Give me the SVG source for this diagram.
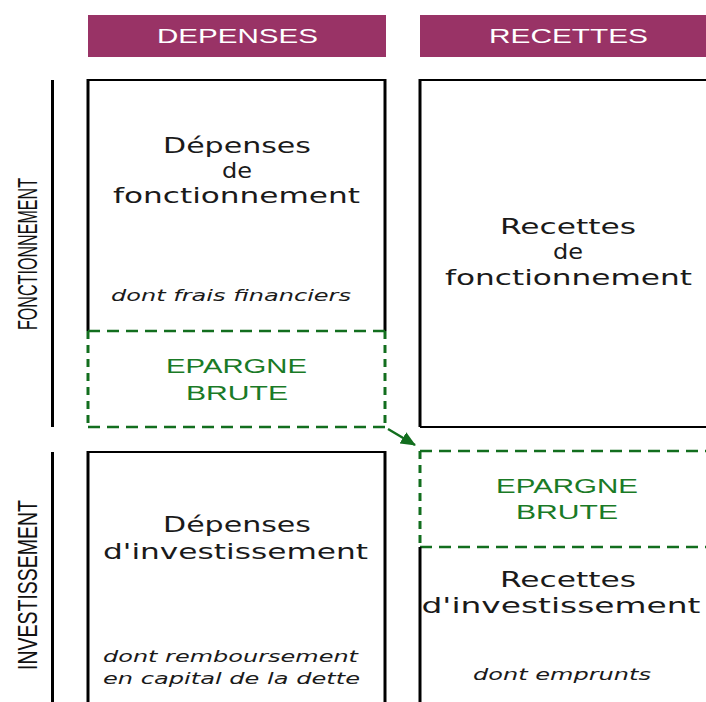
<svg xmlns="http://www.w3.org/2000/svg" width="706" height="702" viewBox="0 0 706 702">
<style>
.hdr{fill:#993366}
.htxt{font-family:"Liberation Sans",Arial,sans-serif;font-size:21px;fill:#ffffff;text-anchor:middle}
.body{font-family:"DejaVu Sans",Verdana,sans-serif;font-size:22px;fill:#1a1a1a;text-anchor:middle}
.ital{font-family:"DejaVu Sans",Verdana,sans-serif;font-size:15px;font-style:italic;fill:#1a1a1a;text-anchor:middle}
.eb{font-family:"Liberation Sans",Arial,sans-serif;font-size:20px;fill:#1a7a26;text-anchor:middle}
.side{font-family:"Liberation Sans",Arial,sans-serif;font-size:20px;fill:#111111;text-anchor:middle}
.box{fill:none;stroke:#000000;stroke-width:2}
.vline{fill:none;stroke:#000000;stroke-width:3}
.dh{fill:none;stroke:#126e1e;stroke-width:2.5;stroke-dasharray:12 7}
.dv{fill:none;stroke:#126e1e;stroke-width:3;stroke-dasharray:8 6}
</style>
<defs>
<marker id="ah" markerWidth="15" markerHeight="13" refX="14" refY="6.5" orient="auto" markerUnits="userSpaceOnUse" viewBox="0 0 15 13">
<path d="M0,0 L15,6.5 L0,13 Z" fill="#126e1e"/>
</marker>
</defs>
<rect width="706" height="702" fill="#ffffff"/>

<g id="header-depenses">
<rect class="hdr" x="88" y="15" width="298" height="42"/>
<text class="htxt" x="237.5" y="43" textLength="161" lengthAdjust="spacingAndGlyphs">DEPENSES</text>
</g>
<g id="header-recettes">
<rect class="hdr" x="420" y="15" width="286" height="42"/>
<text class="htxt" x="568.5" y="43" textLength="159" lengthAdjust="spacingAndGlyphs">RECETTES</text>
</g>

<g id="label-fonctionnement">
<line class="vline" x1="52.5" y1="80" x2="52.5" y2="427" stroke-width="4"/>
<text class="side" transform="translate(37,254) scale(1.4,1) rotate(-90)" textLength="152" lengthAdjust="spacingAndGlyphs">FONCTIONNEMENT</text>
</g>
<g id="label-investissement">
<line class="vline" x1="52.5" y1="452" x2="52.5" y2="702" stroke-width="4"/>
<text class="side" transform="translate(37,585) scale(1.4,1) rotate(-90)" textLength="170" lengthAdjust="spacingAndGlyphs">INVESTISSEMENT</text>
</g>

<g id="depenses-fonctionnement">
<line class="box" x1="88" y1="80" x2="385" y2="80"/>
<line class="vline" x1="88" y1="79" x2="88" y2="331"/>
<line class="vline" x1="385" y1="79" x2="385" y2="331"/>
<text class="body" x="237" y="153" textLength="148" lengthAdjust="spacingAndGlyphs">Dépenses</text>
<text class="body" x="237" y="178" textLength="30" lengthAdjust="spacingAndGlyphs">de</text>
<text class="body" x="236.5" y="203" textLength="247" lengthAdjust="spacingAndGlyphs">fonctionnement</text>
<text class="ital" x="231" y="301" textLength="240" lengthAdjust="spacingAndGlyphs">dont frais financiers</text>
</g>

<g id="epargne-brute-depenses">
<line class="dh" x1="88" y1="331" x2="385" y2="331"/>
<line class="dh" x1="88" y1="427" x2="385" y2="427"/>
<line class="dv" x1="88" y1="331" x2="88" y2="427"/>
<line class="dv" x1="385" y1="331" x2="385" y2="427"/>
<text class="eb" x="236.5" y="373" textLength="141" lengthAdjust="spacingAndGlyphs">EPARGNE</text>
<text class="eb" x="237" y="400" textLength="102" lengthAdjust="spacingAndGlyphs">BRUTE</text>
</g>

<g id="recettes-fonctionnement">
<line class="box" x1="708" y1="80" x2="420" y2="80"/>
<line class="vline" x1="420" y1="79" x2="420" y2="427"/>
<line class="box" x1="420" y1="427" x2="708" y2="427"/>
<text class="body" x="568" y="234" textLength="136" lengthAdjust="spacingAndGlyphs">Recettes</text>
<text class="body" x="568" y="259" textLength="30" lengthAdjust="spacingAndGlyphs">de</text>
<text class="body" x="568.5" y="285" textLength="247" lengthAdjust="spacingAndGlyphs">fonctionnement</text>
</g>

<g id="epargne-brute-recettes">
<line class="dh" x1="420" y1="451" x2="706" y2="451"/>
<line class="dh" x1="420" y1="547" x2="706" y2="547"/>
<line class="dv" x1="420" y1="451" x2="420" y2="547"/>
<text class="eb" x="567" y="493" textLength="142" lengthAdjust="spacingAndGlyphs">EPARGNE</text>
<text class="eb" x="567" y="519" textLength="102" lengthAdjust="spacingAndGlyphs">BRUTE</text>
</g>

<g id="depenses-investissement">
<line class="box" x1="88" y1="452" x2="385" y2="452"/>
<line class="vline" x1="88" y1="451" x2="88" y2="702"/>
<line class="vline" x1="385" y1="451" x2="385" y2="702"/>
<text class="body" x="237" y="532" textLength="148" lengthAdjust="spacingAndGlyphs">Dépenses</text>
<text class="body" x="235.5" y="559" textLength="265" lengthAdjust="spacingAndGlyphs">d'investissement</text>
<text class="ital" x="230.5" y="662" textLength="255" lengthAdjust="spacingAndGlyphs">dont remboursement</text>
<text class="ital" x="231.5" y="684" textLength="257" lengthAdjust="spacingAndGlyphs">en capital de la dette</text>
</g>

<g id="recettes-investissement">
<line class="vline" x1="420" y1="547" x2="420" y2="702"/>
<text class="body" x="568" y="587" textLength="136" lengthAdjust="spacingAndGlyphs">Recettes</text>
<text class="body" x="561" y="613" textLength="279" lengthAdjust="spacingAndGlyphs">d'investissement</text>
<text class="ital" x="562" y="680" textLength="178" lengthAdjust="spacingAndGlyphs">dont emprunts</text>
</g>

<g id="connectors">
<line x1="388" y1="429" x2="415" y2="445" stroke="#126e1e" stroke-width="2.5" marker-end="url(#ah)"/>
</g>
</svg>
